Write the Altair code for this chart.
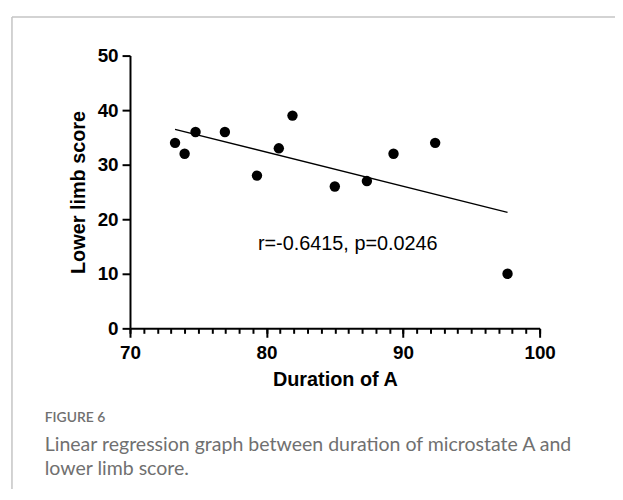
import altair as alt
import pandas as pd

# Data
duration_a = [73.3, 74.0, 74.8, 76.95, 79.3, 80.9, 81.9, 85.0, 87.35, 89.3, 92.35, 97.65]
lower_limb = [34, 32, 36, 36, 28, 33, 39, 26, 27, 32, 34, 10]

x_major = [70, 80, 90, 100]
x_minor = list(range(70, 101))
y_ticks = [0, 10, 20, 30, 40, 50]

annotation_text = ["r=-0.6415, p=0.0246"]
annotation_x = [85.95]
annotation_y = [15.4]

figure_label = ["FIGURE 6"]
caption_lines = [
    "Linear regression graph between duration of microstate A and",
    "lower limb score.",
]

df = pd.DataFrame({"x": duration_a, "y": lower_limb})
ann_df = pd.DataFrame({"x": annotation_x, "y": annotation_y, "t": annotation_text})
fig_df = pd.DataFrame({"t": figure_label})
cap1_df = pd.DataFrame({"t": caption_lines[:1]})
cap2_df = pd.DataFrame({"t": caption_lines[1:]})
one_df = pd.DataFrame({"k": [0]})

W, H = 413, 275
AX_FONT = "Liberation Sans"

xscale = alt.Scale(domain=[70, 100], nice=False, zero=False)
yscale = alt.Scale(domain=[0, 50], nice=False)

x_axis_major = alt.Axis(
    values=x_major, orient="bottom", title="Duration of A", format="d",
    tickSize=9, labelPadding=6, titlePadding=8, grid=False, labelFlush=False,
)
x_axis_minor = alt.Axis(
    values=x_minor, orient="bottom", title=None, labels=False, domain=False,
    tickSize=5, grid=False,
)
y_axis = alt.Axis(
    values=y_ticks, title="Lower limb score", format="d",
    tickSize=8, labelPadding=4, titlePadding=9, grid=False, labelFlush=False,
)

points = alt.Chart(df).mark_circle(size=110, color="black", opacity=1).encode(
    x=alt.X("x:Q", scale=xscale, axis=x_axis_major),
    y=alt.Y("y:Q", scale=yscale, axis=y_axis),
)

reg = alt.Chart(df).transform_regression("x", "y").mark_line(
    color="black", strokeWidth=1.4
).encode(
    x=alt.X("x:Q", scale=xscale, axis=x_axis_minor),
    y=alt.Y("y:Q", scale=yscale, axis=y_axis),
)

ann = alt.Chart(ann_df).mark_text(
    font=AX_FONT, fontSize=20, color="black", align="center", baseline="middle"
).encode(
    x=alt.X("x:Q", scale=xscale, axis=None),
    y=alt.Y("y:Q", scale=yscale, axis=y_axis),
    text="t:N",
)

border_top = alt.Chart(one_df).mark_rule(color="#c4c4c4", strokeWidth=1.5).encode(
    x=alt.value(-119), x2=alt.value(620), y=alt.value(-39)
)
border_left = alt.Chart(one_df).mark_rule(color="#c4c4c4", strokeWidth=1.5).encode(
    x=alt.value(-119), y=alt.value(-39), y2=alt.value(460)
)

fig_txt = alt.Chart(fig_df).mark_text(
    font="Lato", fontSize=14, fontWeight=600, color="#707070", align="left", baseline="middle"
).encode(x=alt.value(-86), y=alt.value(365), text="t:N")

cap1 = alt.Chart(cap1_df).mark_text(
    font="Lato", fontSize=19.7, color="#707070", align="left", baseline="middle"
).encode(x=alt.value(-86), y=alt.value(393), text="t:N")

cap2 = alt.Chart(cap2_df).mark_text(
    font="Lato", fontSize=19.7, color="#707070", align="left", baseline="middle"
).encode(x=alt.value(-86), y=alt.value(417), text="t:N")

chart = alt.layer(
    border_top, border_left, reg, points, ann, fig_txt, cap1, cap2
).resolve_axis(x="independent").properties(
    width=W, height=H,
    autosize=alt.AutoSizeParams(type="none"),
    padding={"left": 123, "top": 46, "right": 76, "bottom": 160},
).configure_view(stroke=None).configure_axis(
    labelFont=AX_FONT, labelFontSize=19, labelFontWeight="bold", labelColor="black",
    titleFont=AX_FONT, titleFontSize=20, titleFontWeight="bold", titleColor="black",
    domainColor="black", domainWidth=2, tickColor="black", tickWidth=2,
)

chart.save("out.html", embed_options={"renderer": "svg", "actions": False})
